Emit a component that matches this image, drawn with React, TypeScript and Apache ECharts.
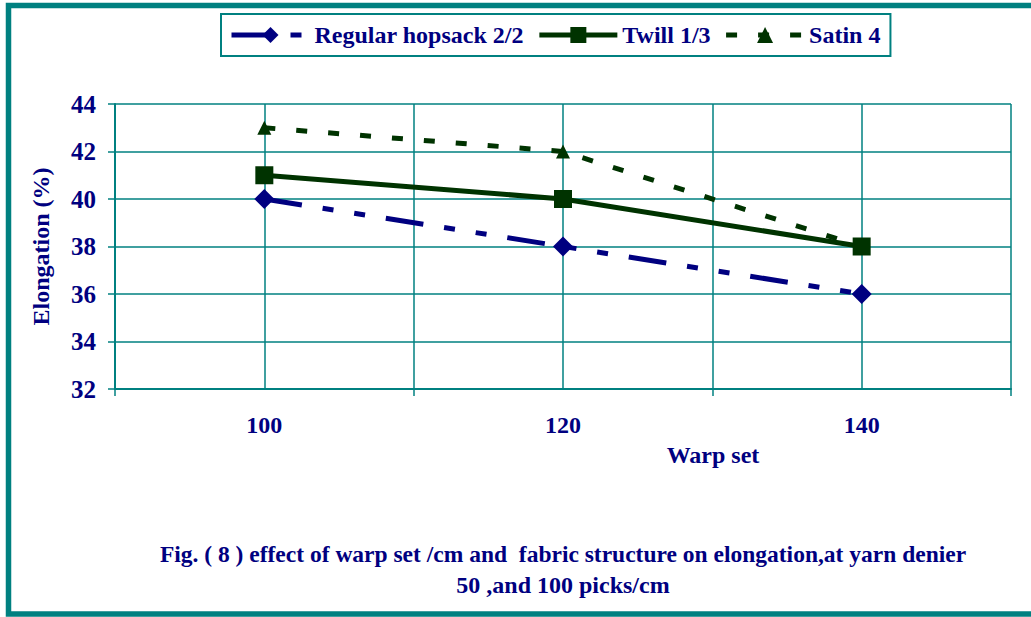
import React, { useEffect, useRef } from "react";
import * as echarts from "echarts";

const warpSet = ["100", "120", "140"];
const regularHopsack = [40, 38, 36];
const twill = [41, 40, 38];
const satin = [43, 42, 38];
const seriesNames = ["Regular hopsack 2/2", "Twill 1/3", "Satin 4"];
const yTitle = "Elongation (%)";
const xTitle = "Warp set";
const caption1 = "Fig. ( 8 ) effect of warp set /cm and  fabric structure on elongation,at yarn denier";
const caption2 = "50 ,and 100 picks/cm";

const TEAL = "#008080";
const NAVY = "#000080";
const GREEN = "#003300";
const FONT = "'Liberation Serif', 'Times New Roman', serif";

export default function App() {
  const ref = useRef<HTMLDivElement>(null);
  useEffect(() => {
    document.body.style.margin = "0";
    const chart = echarts.init(ref.current!, null, { renderer: "svg" });
    chart.setOption({
      animation: false,
      backgroundColor: "#ffffff",
      grid: { left: 115, right: 20, top: 104, bottom: 228, containLabel: false },
      legend: {
        left: 221,
        top: 14,
        padding: [9, 10, 9, 8],
        borderColor: TEAL,
        borderWidth: 2,
        itemWidth: 78,
        itemHeight: 20,
        itemGap: 13,
        lineStyle: { width: 5 },
        textStyle: { color: NAVY, fontFamily: FONT, fontWeight: "bold", fontSize: 24 },
        data: seriesNames,
      },
      xAxis: [
        {
          type: "category",
          data: warpSet,
          boundaryGap: true,
          axisLine: { lineStyle: { color: TEAL, width: 2 } },
          axisTick: { show: true, length: 7, lineStyle: { color: TEAL, width: 1.5 } },
          axisLabel: { color: NAVY, fontFamily: FONT, fontWeight: "bold", fontSize: 24, margin: 24 },
          splitLine: { show: false },
        },
        {
          type: "value",
          min: 90,
          max: 150,
          interval: 10,
          position: "top",
          axisLine: { show: false },
          axisTick: { show: false },
          axisLabel: { show: false },
          splitLine: { show: true, lineStyle: { color: TEAL, width: 1.5 } },
        },
      ],
      yAxis: {
        type: "value",
        min: 32,
        max: 44,
        interval: 2,
        name: yTitle,
        nameLocation: "middle",
        nameGap: 62,
        nameTextStyle: { color: NAVY, fontFamily: FONT, fontWeight: "bold", fontSize: 24 },
        axisLine: { show: true, lineStyle: { color: TEAL, width: 2 } },
        axisTick: { show: true, length: 7, lineStyle: { color: TEAL, width: 1.5 } },
        axisLabel: { color: NAVY, fontFamily: FONT, fontWeight: "bold", fontSize: 25, margin: 19 },
        splitLine: { show: true, lineStyle: { color: TEAL, width: 1.5 } },
      },
      series: [
        {
          name: seriesNames[0],
          type: "line",
          data: regularHopsack,
          z: 3,
          symbol: "diamond",
          symbolSize: 20,
          itemStyle: { color: NAVY },
          lineStyle: { color: NAVY, width: 5, type: [38, 21, 11, 21, 11, 21] },
        },
        {
          name: seriesNames[1],
          type: "line",
          data: twill,
          z: 4,
          symbol: "rect",
          symbolSize: 18,
          itemStyle: { color: GREEN },
          lineStyle: { color: GREEN, width: 5, type: "solid" },
        },
        {
          name: seriesNames[2],
          type: "line",
          data: satin,
          z: 2,
          symbol: "triangle",
          symbolSize: 14,
          itemStyle: { color: GREEN },
          lineStyle: { color: GREEN, width: 5, type: [11, 21] },
        },
      ],
      graphic: [
        {
          type: "rect",
          shape: { x: 8.5, y: 5.5, width: 1100, height: 608.5 },
          style: { fill: "none", stroke: TEAL, lineWidth: 5.5 },
          z: 10,
        },
        {
          type: "text",
          x: 713,
          y: 455,
          style: { text: xTitle, fill: NAVY, font: `bold 24px ${FONT}`, align: "center", verticalAlign: "middle" },
        },
        {
          type: "text",
          x: 563,
          y: 554,
          style: { text: caption1, fill: NAVY, font: `bold 23.5px ${FONT}`, align: "center", verticalAlign: "middle" },
        },
        {
          type: "text",
          x: 563,
          y: 585,
          style: { text: caption2, fill: NAVY, font: `bold 24px ${FONT}`, align: "center", verticalAlign: "middle" },
        },
      ],
    });
    return () => chart.dispose();
  }, []);
  return <div ref={ref} style={{ position: "absolute", left: 0, top: 0, width: 1031, height: 617 }} />;
}
